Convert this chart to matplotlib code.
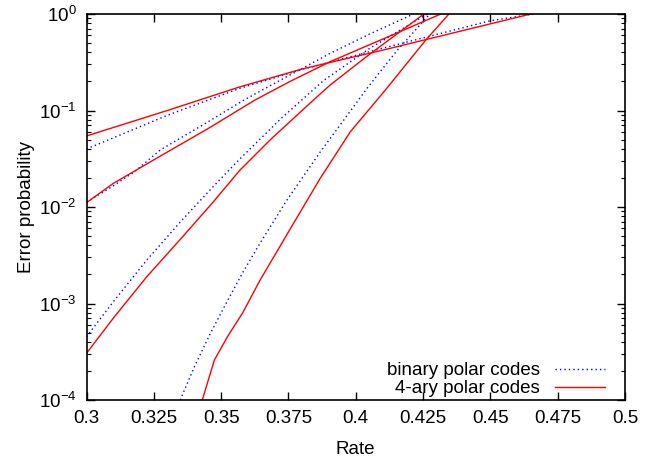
import matplotlib
matplotlib.use("Agg")
import matplotlib.pyplot as plt
from matplotlib.ticker import FixedLocator, LogLocator, NullFormatter

# --- data (rate, error probability) ---
binary_a_rate = [0.3, 0.33, 0.357, 0.38, 0.41, 0.45, 0.466]
binary_a_err = [0.0399, 0.0891, 0.170, 0.266, 0.442, 0.851, 1.0]
quad_a_rate = [0.3, 0.33, 0.357, 0.38, 0.41, 0.44, 0.465]
quad_a_err = [0.0545, 0.100, 0.176, 0.269, 0.422, 0.676, 1.0]

binary_b_rate = [0.3, 0.31, 0.318, 0.3274, 0.345, 0.3585, 0.375, 0.3905, 0.405, 0.4215]
binary_b_err = [0.0112, 0.0166, 0.0234, 0.0390, 0.0759, 0.1285, 0.229, 0.391, 0.617, 1.0]
quad_b_rate = [0.3, 0.31, 0.327, 0.345, 0.3626, 0.3755, 0.3905, 0.41, 0.4316]
quad_b_err = [0.0111, 0.0176, 0.0332, 0.0646, 0.1285, 0.1995, 0.3206, 0.5495, 1.0]

binary_c_rate = [0.3, 0.31, 0.3224, 0.335, 0.347, 0.357, 0.372, 0.388, 0.405, 0.4265]
binary_c_err = [4.53e-4, 1.047e-3, 2.825e-3, 7.08e-3, 0.01622, 0.0316, 0.0813, 0.204, 0.437, 1.0]
quad_c_rate = [0.3, 0.31, 0.3224, 0.335, 0.347, 0.357, 0.368, 0.3843, 0.3905, 0.405, 0.4253]
quad_c_err = [3.05e-4, 7.08e-4, 1.897e-3, 4.68e-3, 0.01122, 0.02415, 0.0490, 0.1285, 0.1837, 0.380, 1.0]

binary_d_rate = [0.3348, 0.34, 0.346, 0.352, 0.358, 0.365, 0.3744, 0.3868, 0.395, 0.4042, 0.415, 0.4275]
binary_d_err = [1e-4, 2.19e-4, 4.90e-4, 1.023e-3, 2.089e-3, 4.467e-3, 0.01175, 0.03715, 0.0759, 0.1698, 0.4074, 1.0]
quad_d_rate = [0.3430, 0.3475, 0.3525, 0.358, 0.3645, 0.3769, 0.3868, 0.398, 0.411, 0.426, 0.4346]
quad_d_err = [1e-4, 2.6e-4, 4.6e-4, 8.0e-4, 1.754e-3, 6.78e-3, 0.01982, 0.0603, 0.163, 0.537, 1.0]

binary_curves = [(binary_a_rate, binary_a_err), (binary_b_rate, binary_b_err),
                 (binary_c_rate, binary_c_err), (binary_d_rate, binary_d_err)]
quad_curves = [(quad_a_rate, quad_a_err), (quad_b_rate, quad_b_err),
               (quad_c_rate, quad_c_err), (quad_d_rate, quad_d_err)]

x_ticks = [0.3, 0.325, 0.35, 0.375, 0.4, 0.425, 0.45, 0.475, 0.5]
x_labels = ["0.3", "0.325", "0.35", "0.375", "0.4", "0.425", "0.45", "0.475", "0.5"]
y_ticks = [1e-4, 1e-3, 1e-2, 1e-1, 1e0]
y_labels = [r"$10^{-4}$", r"$10^{-3}$", r"$10^{-2}$", r"$10^{-1}$", r"$10^{0}$"]

plt.rcParams["font.family"] = ["Liberation Sans", "DejaVu Sans"]
plt.rcParams["mathtext.fontset"] = "custom"
plt.rcParams["mathtext.rm"] = "Liberation Sans"
plt.rcParams["mathtext.it"] = "Liberation Sans"
plt.rcParams["mathtext.default"] = "rm"

FS = 13.5

fig = plt.figure(figsize=(6.68, 4.59), dpi=100, facecolor="white")
ax = fig.add_axes([0.1295, 0.1285, 0.8061, 0.841])

for i, (r, e) in enumerate(binary_curves):
    ax.plot(r, e, color="#0000ff", lw=1.0, linestyle=(0, (1, 2.2)),
            label="binary polar codes" if i == 0 else None)
for i, (r, e) in enumerate(quad_curves):
    ax.plot(r, e, color="#ff0000", lw=1.0,
            label="4-ary polar codes" if i == 0 else None)

ax.set_yscale("log")
ax.set_xlim(0.3, 0.5)
ax.set_ylim(1e-4, 1e0)

ax.xaxis.set_major_locator(FixedLocator(x_ticks))
ax.set_xticklabels(x_labels)
ax.yaxis.set_major_locator(FixedLocator(y_ticks))
ax.set_yticklabels(y_labels)
ax.yaxis.set_minor_locator(LogLocator(base=10, subs=range(2, 10)))
ax.yaxis.set_minor_formatter(NullFormatter())

ax.tick_params(which="both", direction="in", top=True, right=True,
               labelsize=FS, colors="black")
ax.tick_params(which="major", length=6, width=1.0, pad=7)
ax.tick_params(which="minor", length=3, width=0.8)
for s in ax.spines.values():
    s.set_linewidth(1.2)

ax.set_xlabel("Rate", fontsize=FS, labelpad=10)
ax.set_ylabel("Error probability", fontsize=FS, labelpad=3)

leg = ax.legend(loc="lower right", frameon=False, markerfirst=False,
                fontsize=FS, handlelength=2.7, handletextpad=0.8,
                labelspacing=0.05, bbox_to_anchor=(0.988, -0.027),
                borderaxespad=0.3)

fig.savefig("out.png", dpi=100, facecolor="white")
